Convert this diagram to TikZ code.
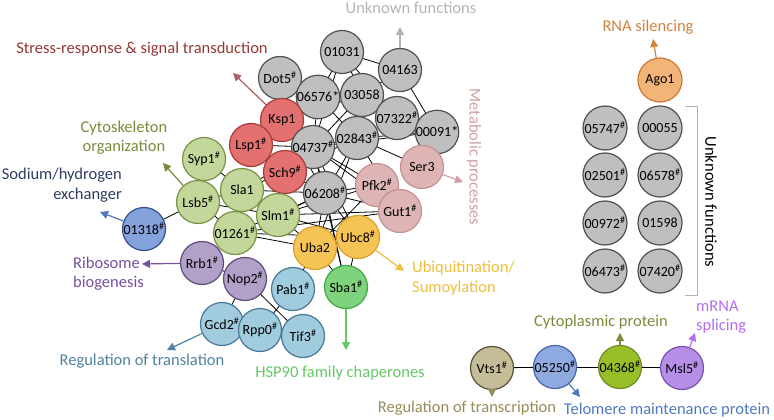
\documentclass[tikz,border=0pt]{standalone}
\usepackage{fontspec}
\setmainfont{Carlito}
\usetikzlibrary{arrows.meta,backgrounds}
\definecolor{gfill}{RGB}{191,191,191}\definecolor{gdraw}{RGB}{80,80,80}
\definecolor{rfill}{RGB}{228,112,112}\definecolor{rdraw}{RGB}{165,60,60}
\definecolor{lgfill}{RGB}{196,215,155}\definecolor{lgdraw}{RGB}{120,145,70}
\definecolor{bfill}{RGB}{132,162,220}\definecolor{bdraw}{RGB}{50,80,140}
\definecolor{pfill}{RGB}{177,160,199}\definecolor{pdraw}{RGB}{95,75,125}
\definecolor{tfill}{RGB}{160,204,222}\definecolor{tdraw}{RGB}{70,120,150}
\definecolor{yfill}{RGB}{246,196,85}\definecolor{ydraw}{RGB}{215,160,45}
\definecolor{sfill}{RGB}{125,212,125}\definecolor{sdraw}{RGB}{70,165,70}
\definecolor{mfill}{RGB}{222,180,180}\definecolor{mdraw}{RGB}{195,145,145}
\definecolor{ofill}{RGB}{243,180,120}\definecolor{odraw}{RGB}{205,120,50}
\definecolor{vfill}{RGB}{196,189,151}\definecolor{vdraw}{RGB}{85,80,55}
\definecolor{tbfill}{RGB}{142,170,224}\definecolor{tbdraw}{RGB}{70,100,170}
\definecolor{cfill}{RGB}{152,190,40}\definecolor{cdraw}{RGB}{110,140,30}
\definecolor{msfill}{RGB}{182,142,232}\definecolor{msdraw}{RGB}{120,80,170}
\definecolor{cRed}{RGB}{150,55,55}\definecolor{cOlive}{RGB}{120,140,60}
\definecolor{cNavy}{RGB}{45,60,100}\definecolor{cPurple}{RGB}{120,80,160}
\definecolor{cTeal}{RGB}{80,130,160}\definecolor{cGreen}{RGB}{100,200,100}
\definecolor{cGold}{RGB}{240,190,60}\definecolor{cPink}{RGB}{210,160,160}
\definecolor{cGray}{RGB}{180,180,180}\definecolor{cOrange}{RGB}{210,130,60}
\definecolor{cKhaki}{RGB}{150,140,90}\definecolor{cBlue}{RGB}{80,120,190}
\definecolor{cViolet}{RGB}{180,110,240}
\newcommand{\hs}{\textsuperscript{\#}}
\tikzset{
  prot/.style={circle,minimum size=43pt,inner sep=0pt,line width=1.2pt,font=\fontsize{14}{14}\selectfont},
  gray/.style={prot,fill=gfill,draw=gdraw},
  red/.style={prot,fill=rfill,draw=rdraw},
  lg/.style={prot,fill=lgfill,draw=lgdraw},
  pu/.style={prot,fill=pfill,draw=pdraw},
  tl/.style={prot,fill=tfill,draw=tdraw},
  ye/.style={prot,fill=yfill,draw=ydraw},
  pk/.style={prot,fill=mfill,draw=mdraw},
  lbl/.style={font=\fontsize{16.5}{19.5}\selectfont,inner sep=0pt},
  arr/.style={line width=1.2pt,-{Triangle[width=8pt,length=8pt]}},
  edge/.style={line width=0.8pt,black}
}
\begin{document}
\begin{tikzpicture}[x=1pt,y=-1pt]
\useasboundingbox (0,0) rectangle (774,420);
% network nodes
\node[gray] (n01031) at (342,52) {01031};
\node[gray] (n04163) at (400,70) {04163};
\node[gray] (dot5) at (280,78) {Dot5\hs};
\node[gray] (n06576) at (318,97) {06576*};
\node[gray] (n03058) at (362,95) {03058};
\node[red] (ksp1) at (282,120) {Ksp1};
\node[gray] (n07322) at (397,118) {07322\hs};
\node[gray] (n00091) at (437,132) {00091*};
\node[gray] (n02843) at (357,138) {02843\hs};
\node[gray] (n04737) at (313,147) {04737\hs};
\node[red] (lsp1) at (251,145) {Lsp1\hs};
\node[red] (sch9) at (285,172) {Sch9\hs};
\node[pk] (ser3) at (422,167) {Ser3};
\node[pk] (pfk2) at (377,185) {Pfk2\hs};
\node[gray] (n06208) at (325,193) {06208\hs};
\node[pk] (gut1) at (400,211) {Gut1\hs};
\node[lg] (syp1) at (204,159) {Syp1\hs};
\node[lg] (sla1) at (242,190) {Sla1};
\node[lg] (lsb5) at (198,202) {Lsb5\hs};
\node[lg] (slm1) at (278,215) {Slm1\hs};
\node[lg] (n01261) at (235,233) {01261\hs};
\node[prot,fill=bfill,draw=bdraw] (n01318) at (144,229) {01318\hs};
\node[pu] (rrb1) at (202,263) {Rrb1\hs};
\node[pu] (nop2) at (245,279) {Nop2\hs};
\node[tl] (gcd2) at (222,324) {Gcd2\hs};
\node[tl] (rpp0) at (260,330) {Rpp0\hs};
\node[tl] (pab1) at (293,289) {Pab1\hs};
\node[tl] (tif3) at (303,336) {Tif3\hs};
\node[ye] (uba2) at (315,248) {Uba2};
\node[ye] (ubc8) at (358,237) {Ubc8\hs};
\node[prot,fill=sfill,draw=sdraw] (sba1) at (346,287) {Sba1\hs};
% edges behind nodes
\begin{scope}[on background layer]
\foreach \a/\b in {n01031/n04163,n01031/n06576,n01031/n03058,n01031/n07322,n01031/n04737,
  n04163/n00091,n04163/n03058,n06576/n03058,n06576/n02843,n06576/n04737,n06576/dot5,
  n03058/n02843,n03058/n07322,n03058/n04737,n07322/n00091,n07322/n02843,n02843/n04737,
  n02843/n00091,n02843/n06208,n04737/n06208,n04737/pfk2,n02843/ser3,n04737/n00091,
  ksp1/n06208,ksp1/n03058,lsp1/n04737,sch9/n06208,sch9/n02843,sch9/sla1,
  n06208/gut1,n06208/pfk2,n06208/uba2,n06208/ubc8,n06208/sba1,n04737/ubc8,n04737/sba1,
  n02843/gut1,n02843/uba2,pfk2/uba2,slm1/gut1,n01261/gut1,n01261/ubc8,n01261/uba2,
  slm1/n06208,slm1/pfk2,slm1/uba2,sla1/n06208,sla1/slm1,sla1/n01261,lsb5/sla1,lsb5/n01261,
  lsb5/slm1,syp1/sla1,n01318/lsb5,rrb1/nop2,nop2/gcd2,nop2/tif3,pab1/rpp0,pab1/uba2,
  uba2/sba1,ubc8/sba1,sla1/n04737,n01261/n06208,n04737/gut1,slm1/ubc8}
  {\draw[edge] (\a.center) -- (\b.center);}
\end{scope}
% right column
\node[prot,fill=ofill,draw=odraw,minimum size=44pt] (ago1) at (660,80) {Ago1};
\node[gray,minimum size=44pt] (n05747) at (605,128) {05747\hs};
\node[gray,minimum size=44pt] (n00055) at (660,128) {00055};
\node[gray,minimum size=44pt] (n02501) at (605,175) {02501\hs};
\node[gray,minimum size=44pt] (n06578) at (660,175) {06578\hs};
\node[gray,minimum size=44pt] (n00972) at (605,223) {00972\hs};
\node[gray,minimum size=44pt] (n01598) at (660,223) {01598};
\node[gray,minimum size=44pt] (n06473) at (605,271) {06473\hs};
\node[gray,minimum size=44pt] (n07420) at (660,271) {07420\hs};
\coordinate (bt) at (685,106);
\coordinate (bb) at (685,295);
\draw[cGray,line width=1pt] (bt) -- ++(12,0) -- ++(0,189) -- (bb);
\node[lbl,rotate=-90] (unkR) at (711,202) {Unknown functions};
% bottom chain
\node[prot,fill=vfill,draw=vdraw] (vts1) at (492,368) {Vts1\hs};
\node[prot,fill=tbfill,draw=tbdraw] (n05250) at (555,367) {05250\hs};
\node[prot,fill=cfill,draw=cdraw] (n04368) at (620,367) {04368\hs};
\node[prot,fill=msfill,draw=msdraw] (msl5) at (682,368) {Msl5\hs};
\begin{scope}[on background layer]
\draw[edge] (vts1) -- (n05250);
\draw[edge] (n05250) -- (n04368);
\draw[edge] (n04368) -- (msl5);
\end{scope}
% labels
\node[lbl,text=cGray] (lUnk) at (411,8) {Unknown functions};
\node[lbl,text=cRed] (lStress) at (142,49) {Stress-response \& signal transduction};
\node[lbl,text=cOlive,align=center] (lCyto) at (124,137.5) {Cytoskeleton\\organization};
\node[lbl,text=cNavy,align=right,anchor=east] (lSod) at (122,185) {Sodium/hydrogen\\exchanger};
\node[lbl,text=cPurple,align=left,anchor=west] (lRibo) at (73,273.5) {Ribosome\\biogenesis};
\node[lbl,text=cTeal] (lTrans) at (142,361) {Regulation of translation};
\node[lbl,text=cGreen] (lHsp) at (340,373) {HSP90 family chaperones};
\node[lbl,text=cGold,align=left,anchor=west] (lUbi) at (412,278) {Ubiquitination/\\Sumoylation};
\node[lbl,text=cPink,rotate=-90] (lMeta) at (474,157) {Metabolic processes};
\node[lbl,text=cOrange] (lRna) at (648,27) {RNA silencing};
\node[lbl,text=cOlive] (lCytop) at (601,322) {Cytoplasmic protein};
\node[lbl,text=cViolet,align=left,anchor=west] (lMrna) at (696,317) {mRNA\\splicing};
\node[lbl,text=cKhaki] (lTrx) at (467,408) {Regulation of transcription};
\node[lbl,text=cBlue] (lTel) at (667,410) {Telomere maintenance protein};
% arrow tips
\coordinate (tUnk) at (400,27);
\coordinate (tStress) at (233,73);
\coordinate (tCyto) at (163,163);
\coordinate (tSod) at (100,212);
\coordinate (tRibo) at (142,264);
\coordinate (tTrans) at (167,350);
\coordinate (tHsp) at (346,350);
\coordinate (tUbi) at (404,271);
\coordinate (tMeta) at (463,182);
\coordinate (tRna) at (653,39);
\coordinate (tTrx) at (492,397);
\coordinate (tTel) at (580,397);
\coordinate (tCytop) at (620,333);
\coordinate (tMrna) at (695,333);
\draw[arr,cGray] (n04163) -- (tUnk);
\draw[arr,cRed!80!white] (ksp1) -- (tStress);
\draw[arr,cOlive] (lsb5) -- (tCyto);
\draw[arr,cBlue] (n01318) -- (tSod);
\draw[arr,cPurple] (rrb1) -- (tRibo);
\draw[arr,cTeal] (gcd2) -- (tTrans);
\draw[arr,cGreen] (sba1) -- (tHsp);
\draw[arr,cGold] (ubc8) -- (tUbi);
\draw[arr,cPink] (ser3) -- (tMeta);
\draw[arr,cOrange] (ago1) -- (tRna);
\draw[arr,cKhaki] (vts1) -- (tTrx);
\draw[arr,cBlue] (n05250) -- (tTel);
\draw[arr,cOlive] (n04368) -- (tCytop);
\draw[arr,cViolet] (msl5) -- (tMrna);
\end{tikzpicture}
\end{document}
